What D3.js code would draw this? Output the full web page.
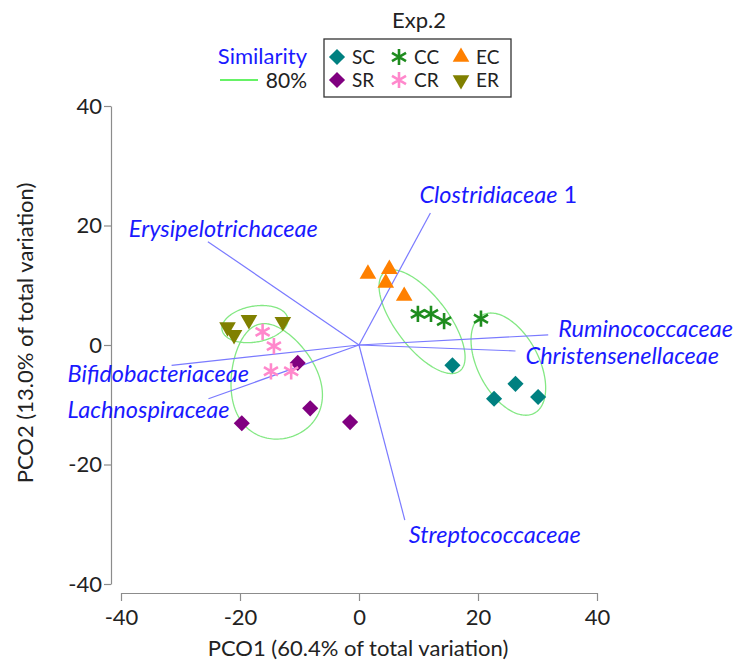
<!DOCTYPE html>
<html>
<head>
<meta charset="utf-8">
<script src="https://cdn.jsdelivr.net/npm/d3@7"></script>
<style>
  body { margin: 0; background: #fff; }
  svg { font-family: Lato, 'Open Sans', sans-serif; }
</style>
</head>
<body>
<svg id="chart" width="734" height="661"></svg>
<script>
// sample scores on PCO1 / PCO2
const scX = [15.7, 22.7, 26.3, 30.1];
const scY = [-3.4, -9.0, -6.5, -8.7];
const srX = [-19.7, -10.3, -8.2, -1.5];
const srY = [-13.1, -3.0, -10.6, -12.9];
const ccX = [9.9, 12.1, 14.3, 20.5];
const ccY = [5.2, 5.2, 4.0, 4.4];
const crX = [-16.2, -14.3, -14.8, -11.4];
const crY = [2.2, -0.2, -4.4, -4.4];
const ecX = [1.5, 5.1, 4.5, 7.6];
const ecY = [11.9, 12.7, 10.4, 8.2];
const erX = [-22.1, -21.0, -18.5, -12.8];
const erY = [3.0, 1.7, 4.2, 3.9];

// correlation vectors (family names)
const vectorNames = ['Clostridiaceae', 'Erysipelotrichaceae', 'Ruminococcaceae', 'Christensenellaceae',
  'Bifidobacteriaceae', 'Lachnospiraceae', 'Streptococcaceae'];
const vectorX = [12.0, -25.4, 31.8, 26.3, -31.5, -25.3, 7.7];
const vectorY = [22.1, 17.3, 1.7, -1.0, -3.4, -9.0, -29.3];

// 80% similarity contours: centre, half axes, rotation (deg), egg taper
const ellCx = [-17.5, -14.3, 10.6, 25.1];
const ellCy = [3.5, -6.0, 3.9, -3.2];
const ellA = [5.6, 9.8, 10.4, 9.3];
const ellB = [3.0, 7.4, 4.4, 5.1];
const ellAngle = [10, -75, -52.5, -62];
const ellTaper = [0, 0.22, 0, 0];

const xTicks = [-40, -20, 0, 20, 40];
const yTicks = [-40, -20, 0, 20, 40];

const legendOrder = ['SC', 'CC', 'EC', 'SR', 'CR', 'ER'];

// layout / style
const labelColor = '#1a1aff';
const vectorColor = '#7a7aff';
const ellipseColor = '#84e884';
const axisColor = '#8c8c8c';
const textColor = '#222';

const groupStyle = {
  SC: { xs: scX, ys: scY, color: '#008080', shape: 'diamond' },
  SR: { xs: srX, ys: srY, color: '#800080', shape: 'diamond' },
  CC: { xs: ccX, ys: ccY, color: '#1e8c1e', shape: 'asterisk' },
  CR: { xs: crX, ys: crY, color: '#ff88cc', shape: 'asterisk' },
  EC: { xs: ecX, ys: ecY, color: '#ff8000', shape: 'up' },
  ER: { xs: erX, ys: erY, color: '#808000', shape: 'down' },
};

// label offsets from vector tips (px)
const labelOffset = {
  Clostridiaceae: [-11, -10],
  Erysipelotrichaceae: [-79, -5],
  Ruminococcaceae: [10, 2],
  Christensenellaceae: [10, 13],
  Bifidobacteriaceae: [-104, 17],
  Lachnospiraceae: [-141, 19],
  Streptococcaceae: [4, 23],
};

const svg = d3.select('#chart');

const x = d3.scaleLinear().domain([-40, 40]).range([121, 597]);
const y = d3.scaleLinear().domain([-40, 40]).range([584, 106]);

// axes (plain hyphen for negatives, like the original)
const fmt = (d) => String(d);
const xAxis = svg.append('g')
  .attr('transform', 'translate(0,593)')
  .call(d3.axisBottom(x).tickValues(xTicks).tickFormat(fmt).tickSize(8).tickSizeOuter(0).tickPadding(4));
const yAxis = svg.append('g')
  .attr('transform', 'translate(111,0)')
  .call(d3.axisLeft(y).tickValues(yTicks).tickFormat(fmt).tickSize(7).tickSizeOuter(0).tickPadding(2));

[xAxis, yAxis].forEach((g) => {
  g.selectAll('path, line').attr('stroke', axisColor).attr('stroke-width', 1.2);
  g.selectAll('text')
    .attr('fill', textColor)
    .style('font-size', '22px')
    .style('font-family', 'Lato, sans-serif');
});
xAxis.selectAll('text').attr('dy', '0.9em');

svg.append('text')
  .attr('x', 358)
  .attr('y', 656)
  .attr('text-anchor', 'middle')
  .attr('fill', textColor)
  .style('font-size', '22px')
  .text('PCO1 (60.4% of total variation)');

svg.append('text')
  .attr('transform', 'translate(33,333) rotate(-90)')
  .attr('text-anchor', 'middle')
  .attr('fill', textColor)
  .style('font-size', '22px')
  .text('PCO2 (13.0% of total variation)');

// similarity ellipses
const ellipseLine = d3.line().curve(d3.curveLinearClosed);
ellCx.forEach((cx, i) => {
  const rot = ellAngle[i] * Math.PI / 180;
  const pts = d3.range(0, 2 * Math.PI, Math.PI / 90).map((t) => {
    const u = ellA[i] * Math.cos(t);
    const v = ellB[i] * Math.sin(t) * (1 + ellTaper[i] * Math.cos(t));
    const dx = u * Math.cos(rot) - v * Math.sin(rot);
    const dy = u * Math.sin(rot) + v * Math.cos(rot);
    return [x(cx + dx), y(ellCy[i] + dy)];
  });
  svg.append('path')
    .attr('d', ellipseLine(pts))
    .attr('fill', 'none')
    .attr('stroke', ellipseColor)
    .attr('stroke-width', 1.3);
});

// vectors
svg.append('g')
  .selectAll('line')
  .data(vectorNames)
  .enter()
  .append('line')
  .attr('x1', x(0))
  .attr('y1', y(0))
  .attr('x2', (d, i) => x(vectorX[i]))
  .attr('y2', (d, i) => y(vectorY[i]))
  .attr('stroke', vectorColor)
  .attr('stroke-width', 1.2);

const vecLabels = svg.append('g')
  .selectAll('text')
  .data(vectorNames)
  .enter()
  .append('text')
  .attr('x', (d, i) => x(vectorX[i]) + labelOffset[d][0])
  .attr('y', (d, i) => y(vectorY[i]) + labelOffset[d][1])
  .attr('fill', labelColor)
  .style('font-size', '23.5px');
vecLabels.append('tspan')
  .style('font-style', 'italic')
  .text((d) => d);
vecLabels.filter((d) => d === 'Clostridiaceae')
  .append('tspan')
  .text(' 1');

// marker shapes
function markerPath(shape) {
  if (shape === 'diamond') return d3.symbol(d3.symbolSquare, 130)();
  if (shape === 'asterisk') return d3.symbol(d3.symbolAsterisk, 185)();
  return d3.symbol(d3.symbolTriangle, 120)();
}
function drawMarker(g, shape, color, px, py) {
  const rot = shape === 'diamond' ? 45 : shape === 'down' ? 180 : 0;
  const p = g.append('path')
    .attr('d', markerPath(shape))
    .attr('transform', `translate(${px},${py}) rotate(${rot})`);
  if (shape === 'asterisk') {
    p.attr('fill', 'none').attr('stroke', color).attr('stroke-width', 2.6);
  } else {
    p.attr('fill', color);
  }
}

// points
const pointsG = svg.append('g');
Object.keys(groupStyle).forEach((key) => {
  const s = groupStyle[key];
  s.xs.forEach((v, i) => drawMarker(pointsG, s.shape, s.color, x(v), y(s.ys[i])));
});

// legend
svg.append('text')
  .attr('x', 419)
  .attr('y', 28)
  .attr('text-anchor', 'middle')
  .attr('fill', textColor)
  .style('font-size', '22px')
  .text('Exp.2');

svg.append('rect')
  .attr('x', 324)
  .attr('y', 39)
  .attr('width', 187)
  .attr('height', 58)
  .attr('fill', 'none')
  .attr('stroke', '#333')
  .attr('stroke-width', 1.3);

const legendG = svg.append('g');
legendOrder.forEach((key, i) => {
  const col = i % 3;
  const row = Math.floor(i / 3);
  const lx = 337 + col * 62;
  const ly = 57 + row * 23;
  drawMarker(legendG, groupStyle[key].shape, groupStyle[key].color, lx, ly);
  legendG.append('text')
    .attr('x', lx + 15)
    .attr('y', ly)
    .attr('dy', '0.36em')
    .attr('fill', textColor)
    .style('font-size', '19px')
    .text(key);
});

svg.append('text')
  .attr('x', 307)
  .attr('y', 64)
  .attr('text-anchor', 'end')
  .attr('fill', labelColor)
  .style('font-size', '22px')
  .text('Similarity');
svg.append('line')
  .attr('x1', 220)
  .attr('x2', 258)
  .attr('y1', 80)
  .attr('y2', 80)
  .attr('stroke', '#33ee33')
  .attr('stroke-width', 1.3);
svg.append('text')
  .attr('x', 307)
  .attr('y', 88)
  .attr('text-anchor', 'end')
  .attr('fill', textColor)
  .style('font-size', '21px')
  .text('80%');
</script>
</body>
</html>
